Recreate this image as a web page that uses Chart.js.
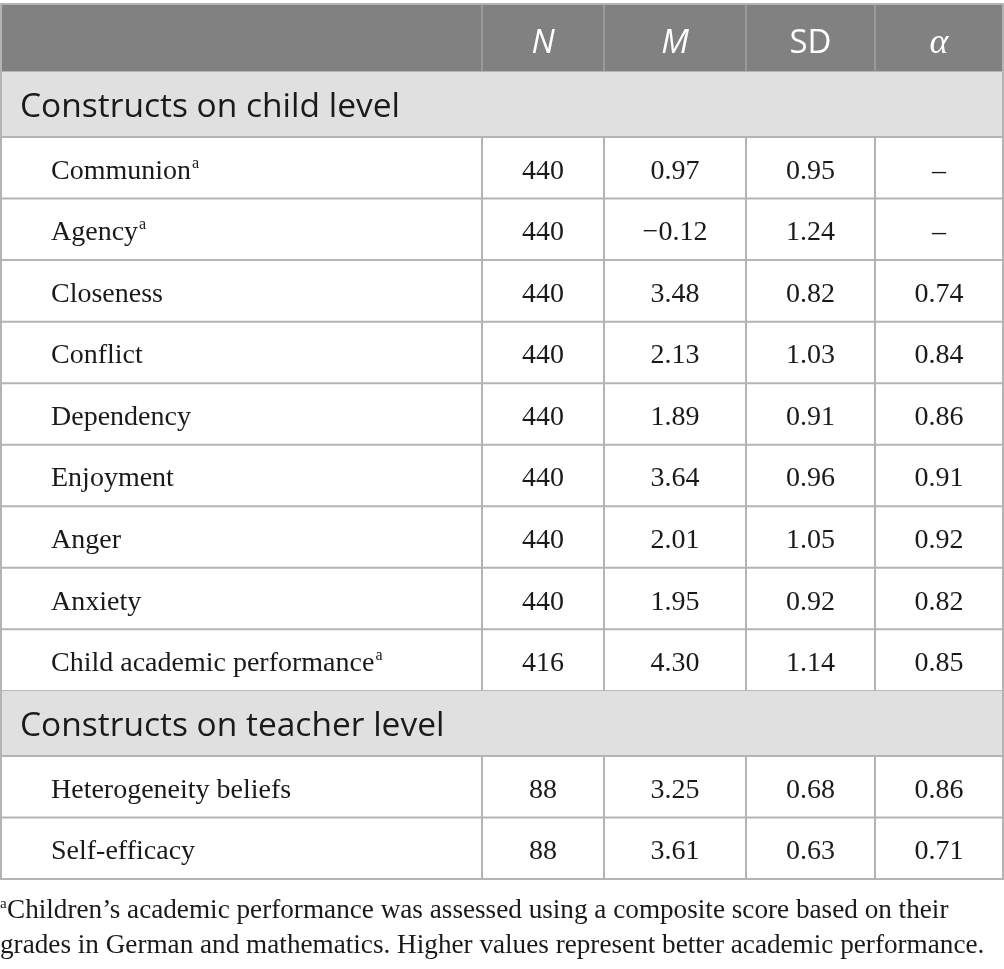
<!DOCTYPE html>
<html lang="en">
<head>
    <meta charset="UTF-8">
    <title>Descriptive statistics</title>
    <style>
      html, body { margin: 0; padding: 0; background: #ffffff; }
      #tableChart { display: block; }
    </style>
</head>
<body>
    <canvas id="tableChart" width="1004" height="969"></canvas>

    <script src="https://cdn.jsdelivr.net/npm/chart.js"></script>
    <script>
        // table data
        const columns = ['', 'N', 'M', 'SD', 'α'];
        const sections = ['Constructs on child level', 'Constructs on teacher level'];

        const childRows = ['Communion', 'Agency', 'Closeness', 'Conflict', 'Dependency',
                           'Enjoyment', 'Anger', 'Anxiety', 'Child academic performance'];
        const childN = [440, 440, 440, 440, 440, 440, 440, 440, 416];
        const childM = [0.97, -0.12, 3.48, 2.13, 1.89, 3.64, 2.01, 1.95, 4.30];
        const childSD = [0.95, 1.24, 0.82, 1.03, 0.91, 0.96, 1.05, 0.92, 1.14];
        const childAlpha = [null, null, 0.74, 0.84, 0.86, 0.91, 0.92, 0.82, 0.85];

        const teacherRows = ['Heterogeneity beliefs', 'Self-efficacy'];
        const teacherN = [88, 88];
        const teacherM = [3.25, 3.61];
        const teacherSD = [0.68, 0.63];
        const teacherAlpha = [0.86, 0.71];

        const footnoted = ['Communion', 'Agency', 'Child academic performance'];
        const footnote = [
            'Children\u2019s academic performance was assessed using a composite score based on their',
            'grades in German and mathematics. Higher values represent better academic performance.'
        ];

        // layout (reference pixels)
        const colEdges = [1, 482, 604, 746, 875, 1003];
        const rowHeight = { header: 68, section: 65, data: 61.55 };

        const fmt = v => v === null ? '\u2013' : (Number.isInteger(v) ? String(v) : v.toFixed(2).replace('-', '\u2212'));

        const rows = [{ type: 'header' }, { type: 'section', text: sections[0] }];
        childRows.forEach((name, i) => rows.push({
            type: 'data', label: name,
            vals: [childN[i], childM[i], childSD[i], childAlpha[i]]
        }));
        rows.push({ type: 'section', text: sections[1] });
        teacherRows.forEach((name, i) => rows.push({
            type: 'data', label: name,
            vals: [teacherN[i], teacherM[i], teacherSD[i], teacherAlpha[i]]
        }));
        const totalUnits = rows.reduce((s, r) => s + rowHeight[r.type], 0);

        const tablePlugin = {
            id: 'tablePlugin',
            afterDraw(chart) {
                const { ctx, scales: { x, y } } = chart;
                const serif = '"Liberation Serif", "DejaVu Serif", serif';
                const sans = '"Open Sans", "Noto Sans", sans-serif';
                const left = x.getPixelForValue(colEdges[0]);
                const right = x.getPixelForValue(colEdges[colEdges.length - 1]);
                const colCenter = c => (x.getPixelForValue(colEdges[c]) + x.getPixelForValue(colEdges[c + 1])) / 2;

                ctx.save();
                ctx.textBaseline = 'alphabetic';
                let pos = 0;
                rows.forEach(r => {
                    const top = y.getPixelForValue(pos);
                    pos += rowHeight[r.type];
                    const bot = y.getPixelForValue(pos);
                    const mid = (top + bot) / 2;

                    if (r.type === 'header') {
                        ctx.fillStyle = '#808180';
                        ctx.fillRect(left, top, right - left, bot - top);
                        ctx.strokeStyle = '#a3a3a3';
                        ctx.lineWidth = 1.5;
                        for (let c = 1; c < colEdges.length - 1; c++) {
                            const px = x.getPixelForValue(colEdges[c]);
                            ctx.beginPath(); ctx.moveTo(px, top); ctx.lineTo(px, bot); ctx.stroke();
                        }
                        ctx.fillStyle = '#ffffff';
                        ctx.textAlign = 'center';
                        columns.forEach((h, c) => {
                            if (!h) return;
                            if (h === 'α') ctx.font = 'italic 36px ' + serif;
                            else if (h === 'SD') ctx.font = '33px ' + sans;
                            else ctx.font = 'italic 33px ' + sans;
                            ctx.fillText(h, colCenter(c), mid + 15);
                        });
                    } else if (r.type === 'section') {
                        ctx.fillStyle = '#e1e0e1';
                        ctx.fillRect(left, top, right - left, bot - top);
                        ctx.fillStyle = '#1a1a1a';
                        ctx.textAlign = 'left';
                        ctx.font = '33.5px ' + sans;
                        ctx.fillText(r.text, x.getPixelForValue(20), mid + 13);
                    } else {
                        ctx.strokeStyle = '#b4b4b4';
                        ctx.lineWidth = 2;
                        for (let c = 1; c < colEdges.length - 1; c++) {
                            const px = x.getPixelForValue(colEdges[c]);
                            ctx.beginPath(); ctx.moveTo(px, top); ctx.lineTo(px, bot); ctx.stroke();
                        }
                        ctx.fillStyle = '#1a1a1a';
                        ctx.textAlign = 'left';
                        ctx.font = '28px ' + serif;
                        const lx = x.getPixelForValue(51);
                        const base = mid + 11;
                        ctx.fillText(r.label, lx, base);
                        if (footnoted.includes(r.label)) {
                            const w = ctx.measureText(r.label).width;
                            ctx.font = '16px ' + serif;
                            ctx.fillText('a', lx + w + 1, base - 11);
                            ctx.font = '28px ' + serif;
                        }
                        ctx.textAlign = 'center';
                        r.vals.forEach((v, c) => ctx.fillText(fmt(v), colCenter(c + 1), base));
                    }
                    // horizontal rule under each row
                    ctx.strokeStyle = '#b4b4b4';
                    ctx.lineWidth = 2;
                    ctx.beginPath(); ctx.moveTo(left, bot); ctx.lineTo(right, bot); ctx.stroke();
                });

                // outer frame
                const tTop = y.getPixelForValue(0), tBot = y.getPixelForValue(totalUnits);
                ctx.strokeStyle = '#b4b4b4';
                ctx.lineWidth = 2;
                ctx.strokeRect(left, tTop, right - left, tBot - tTop);

                // footnote
                ctx.fillStyle = '#1a1a1a';
                ctx.textAlign = 'left';
                ctx.font = '15px ' + serif;
                ctx.fillText('a', 0, tBot + 29);
                ctx.font = '27.2px ' + serif;
                ctx.fillText(footnote[0], 7, tBot + 39);
                ctx.fillText(footnote[1], 0, tBot + 74);
                ctx.restore();
            }
        };

        const tableChart = new Chart(document.getElementById('tableChart'), {
            type: 'scatter',
            data: { datasets: [{ data: [] }] },
            options: {
                responsive: false,
                animation: false,
                events: [],
                layout: { padding: { top: 4, bottom: 90, left: 0, right: 0 } },
                plugins: { legend: { display: false }, tooltip: { enabled: false } },
                scales: {
                    x: { type: 'linear', min: 0, max: 1004, display: false },
                    y: { type: 'linear', min: 0, max: totalUnits, reverse: true, display: false }
                }
            },
            plugins: [tablePlugin]
        });
    </script>
</body>
</html>
